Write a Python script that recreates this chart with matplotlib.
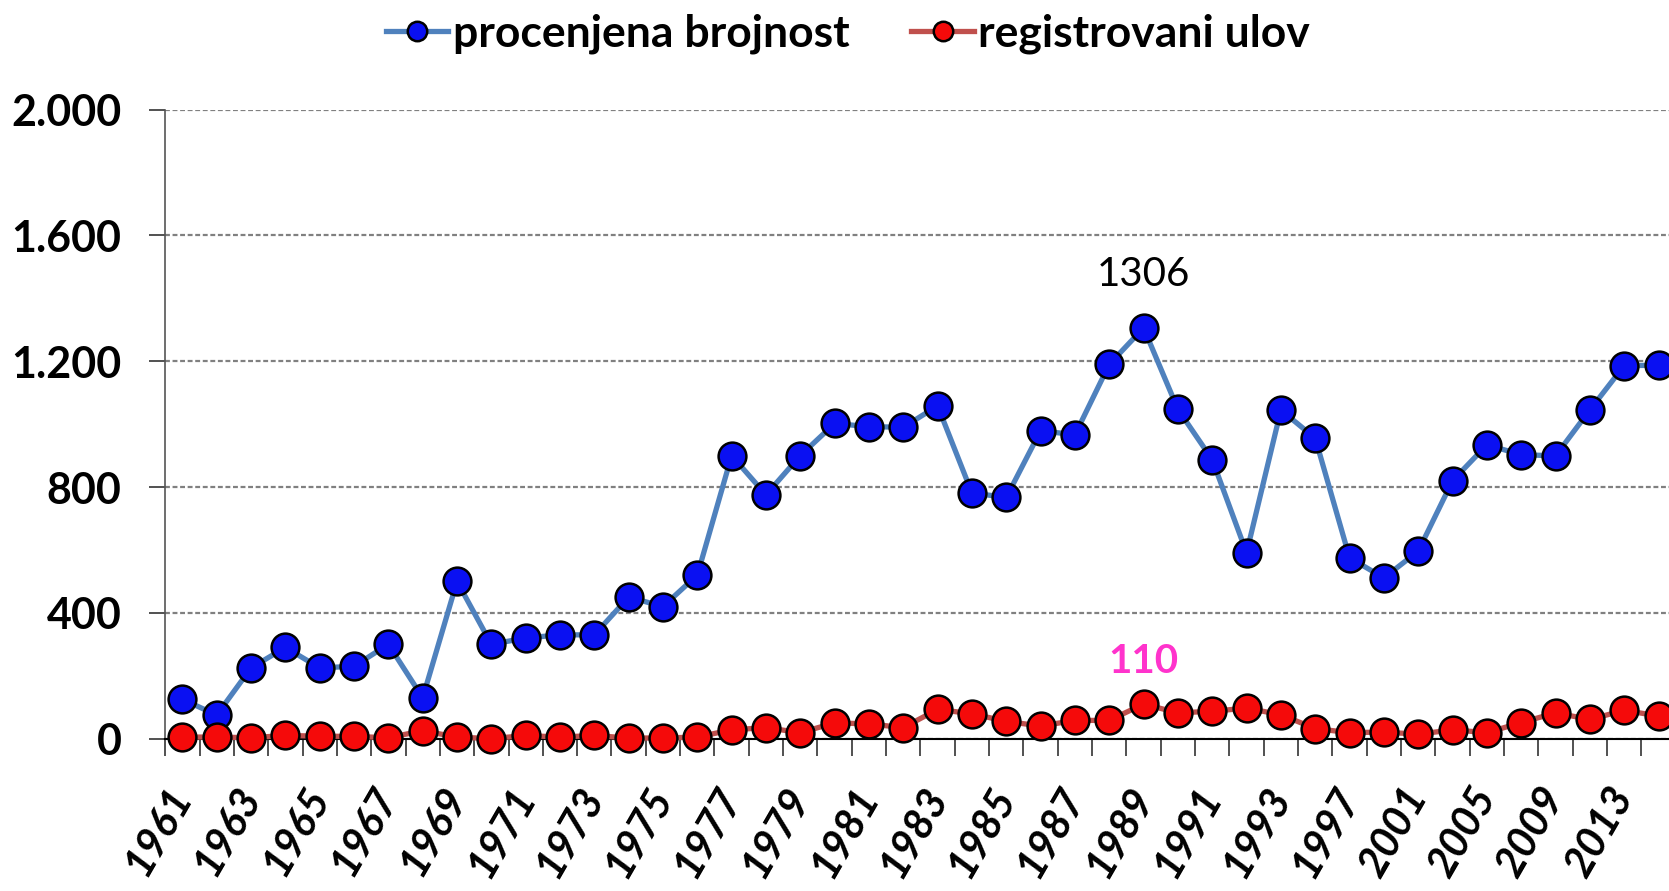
import numpy as np
import matplotlib
matplotlib.use("Agg")
import matplotlib.pyplot as plt
import matplotlib.transforms as mtransforms
from matplotlib.ticker import FuncFormatter, FixedLocator

# godine (kategorije na x osi)
godine = list(range(1961, 1994)) + list(range(1995, 2016, 2))

procenjena = [125, 75, 225, 290, 225, 230, 300, 130, 500, 300,
              320, 330, 330, 450, 420, 520, 900, 775, 900, 1002,
              992, 990, 1058, 781, 767, 979, 966, 1190, 1306, 1047,
              887, 591, 1045, 955, 575, 511, 596, 820, 934, 903,
              899, 1045, 1186, 1187]

ulov = [5, 5, 3, 10, 8, 7, 3, 25, 5, 0,
        10, 5, 10, 2, 2, 5, 28, 35, 19, 50,
        47, 35, 93, 79, 55, 40, 58, 58, 110, 82,
        87, 97, 76, 32, 19, 21, 14, 28, 19, 51,
        82, 61, 90, 72]

plt.rcParams['font.family'] = ['Lato', 'DejaVu Sans']

x = np.arange(len(godine))

fig = plt.figure(figsize=(16.69, 8.91), dpi=100)
ax = fig.add_axes([0.099, 0.171, 0.905, 0.706])

ax.plot(x, procenjena, color='#4F81BD', lw=3.8, marker='o', ms=20,
        mfc='#0A10F2', mec='black', mew=1.8, clip_on=False, zorder=3,
        label='procenjena brojnost')
ax.plot(x, ulov, color='#C0504D', lw=3.8, marker='o', ms=20,
        mfc='#F50A0A', mec='black', mew=1.8, clip_on=False, zorder=4,
        label='registrovani ulov')

# oznake maksimuma
imax = int(np.argmax(procenjena))
ax.annotate(str(procenjena[imax]), (x[imax], procenjena[imax]),
            xytext=(0, 30), textcoords='offset points', ha='center',
            va='baseline', fontsize=29, color='black')
imax2 = int(np.argmax(ulov))
ax.annotate(str(ulov[imax2]), (x[imax2], ulov[imax2]),
            xytext=(0, 22), textcoords='offset points', ha='center',
            va='baseline', fontsize=29, color='#FF33CC', fontweight='bold')

ax.set_ylim(0, 2000)
ax.set_xlim(-0.5, len(godine) - 0.5)
ax.set_yticks(np.arange(0, 2001, 400))
ax.yaxis.set_major_formatter(FuncFormatter(lambda v, p: f"{int(v):,}".replace(',', '.')))
ax.grid(axis='y', color='#808080', ls=(0, (2.2, 1.2)), lw=1.6)
ax.set_axisbelow(True)

ax.set_xticks(x[::2])
ax.set_xticklabels([str(g) for g in godine[::2]], rotation=60, ha='right',
                   va='center', rotation_mode='anchor', fontsize=30,
                   fontweight='bold', fontstyle='italic')
pomak = mtransforms.ScaledTranslation(14 / 100, 0, fig.dpi_scale_trans)
for lab in ax.get_xticklabels():
    lab.set_transform(lab.get_transform() + pomak)
ax.xaxis.set_minor_locator(FixedLocator(np.arange(-0.5, len(godine), 1)))
ax.tick_params(axis='x', which='major', length=0, pad=37)
ax.tick_params(axis='x', which='minor', length=12, width=1.2, color='#333333')
ax.tick_params(axis='y', length=11.5, width=1.2, color='#333333', labelsize=31,
               pad=20)
for lab in ax.get_yticklabels():
    lab.set_fontweight('bold')

for s in ['top', 'right']:
    ax.spines[s].set_visible(False)
ax.spines['left'].set_color('#555555')
ax.spines['left'].set_linewidth(1.2)
ax.spines['bottom'].set_color('black')
ax.spines['bottom'].set_linewidth(1.5)

fig.legend(loc='upper center', bbox_to_anchor=(0.508, 1.03), ncol=2,
           frameon=False, prop={'size': 32, 'weight': 'bold'},
           handlelength=1.4, handletextpad=0.1, columnspacing=1.4,
           markerscale=0.7)

fig.savefig('out.png', dpi=100)
